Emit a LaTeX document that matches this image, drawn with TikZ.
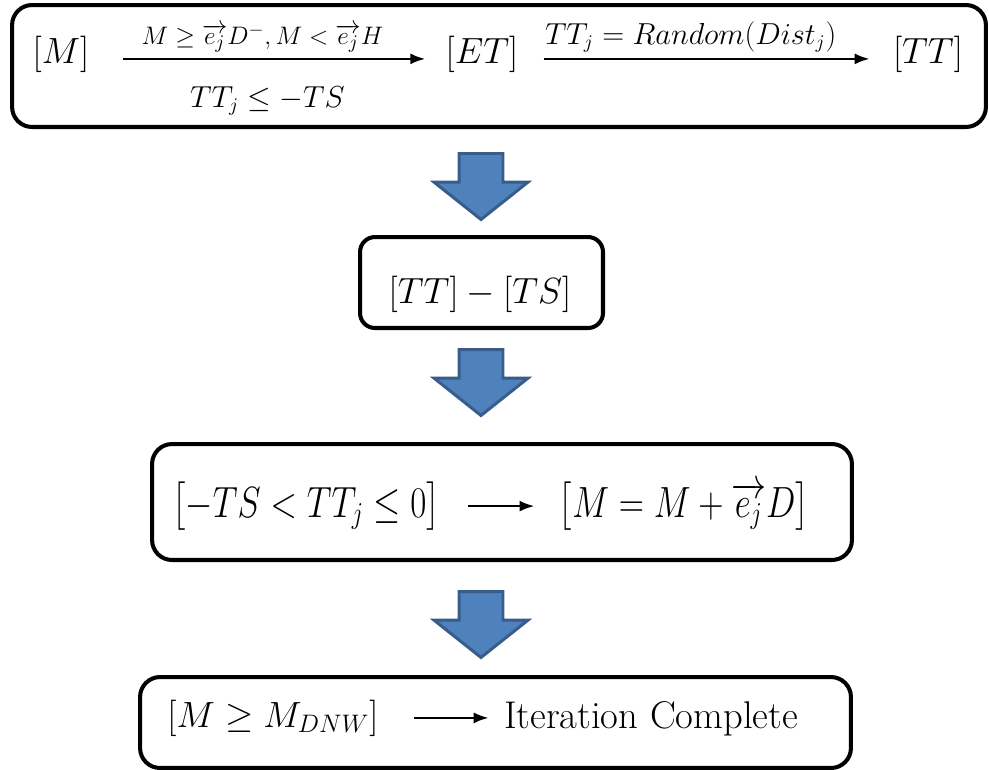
\documentclass[tikz,border=0pt]{standalone}
\usepackage{amsmath,amssymb}
\usepackage{tikz}
\usetikzlibrary{arrows.meta,shapes.arrows}
\definecolor{blockfill}{RGB}{79,129,189}
\definecolor{blockedge}{RGB}{56,93,138}

\begin{document}
\begin{tikzpicture}[x=0.02cm,y=-0.02cm,
  box/.style={draw, line width=2.3pt, rounded corners=0.4cm, inner sep=0},
  mtext/.style={font=\fontsize{22}{26}\selectfont, anchor=base, inner sep=0},
  btext/.style={font=\fontsize{23}{27}\selectfont, anchor=base, inner sep=0},
  lbl/.style={font=\fontsize{16}{19}\selectfont, inner sep=3pt},
  flow/.style={line width=1.4pt, -{Latex[length=0.3cm,width=0.22cm]}},
  blockarrow/.style={single arrow, rotate=-90, anchor=tail, fill=blockfill, draw=blockedge, line width=1.7pt,
    minimum height=1.32cm, inner xsep=0pt, inner ysep=0.41cm,
    single arrow head extend=0.5cm, single arrow tip angle=103}]
  \useasboundingbox (0,0) rectangle (989,769);
  \node[box, minimum width=19.48cm, minimum height=2.44cm] (chain) at (499,66) {};
  \node[box, rounded corners=0.3cm, minimum width=4.86cm, minimum height=1.82cm] (diffbox) at (481.5,282.5) {};
  \node[box, minimum width=14cm, minimum height=2.32cm] (updbox) at (502,502) {};
  \node[box, minimum width=14.22cm, minimum height=1.82cm] (donebox) at (495.5,722.5) {};
  \node[mtext] (m) at (61,63) {$[M]$};
  \node[mtext] (et) at (482,63) {$[ET]$};
  \node[mtext] (tt) at (928,63) {$[TT]$};
  \draw[flow, shorten <=0.66cm, shorten >=0.4cm] ([yshift=-0.1cm]m.east) -- ([yshift=-0.1cm]et.west)
    node[lbl, font=\fontsize{15}{18}\selectfont, midway, above, xshift=-0.1cm] {$M\geq\overrightarrow{e_j}D^{-},M<\overrightarrow{e_j}H$}
    node[lbl, midway, below, yshift=-0.42cm] {$TT_j\leq -TS$};
  \draw[flow, shorten <=0.5cm, shorten >=0.46cm] ([yshift=-0.1cm]et.east) -- ([yshift=-0.1cm]tt.west)
    node[lbl, midway, above, xshift=-0.3cm] {$TT_j=Random(Dist_j)$};
  \node[blockarrow] (a1) at (481,152) {};
  \node[mtext] (diff) at (480,303) {$[TT]-[TS]$};
  \node[blockarrow] (a2) at (481,348) {};
  \node[btext] (cond) at (306,517) {\scalebox{0.8}[1]{$\bigl[-TS<TT_j\leq 0\bigr]$}};
  \node[btext] (upd) at (684,517) {\scalebox{0.8}[1]{$\bigl[M=M+\overrightarrow{e_j}D\bigr]$}};
  \draw[flow, shorten <=0.56cm, shorten >=0.48cm] (cond.east) -- (upd.west);
  \node[blockarrow] (a3) at (481,590) {};
  \node[mtext] (stop) at (273,727) {$[M\geq M_{DNW}]$};
  \node[mtext] (done) at (651,728) {Iteration Complete};
  \draw[flow, shorten <=0.7cm, shorten >=0.3cm] (stop.east) -- (stop.east -| done.west);
\end{tikzpicture}
\end{document}
